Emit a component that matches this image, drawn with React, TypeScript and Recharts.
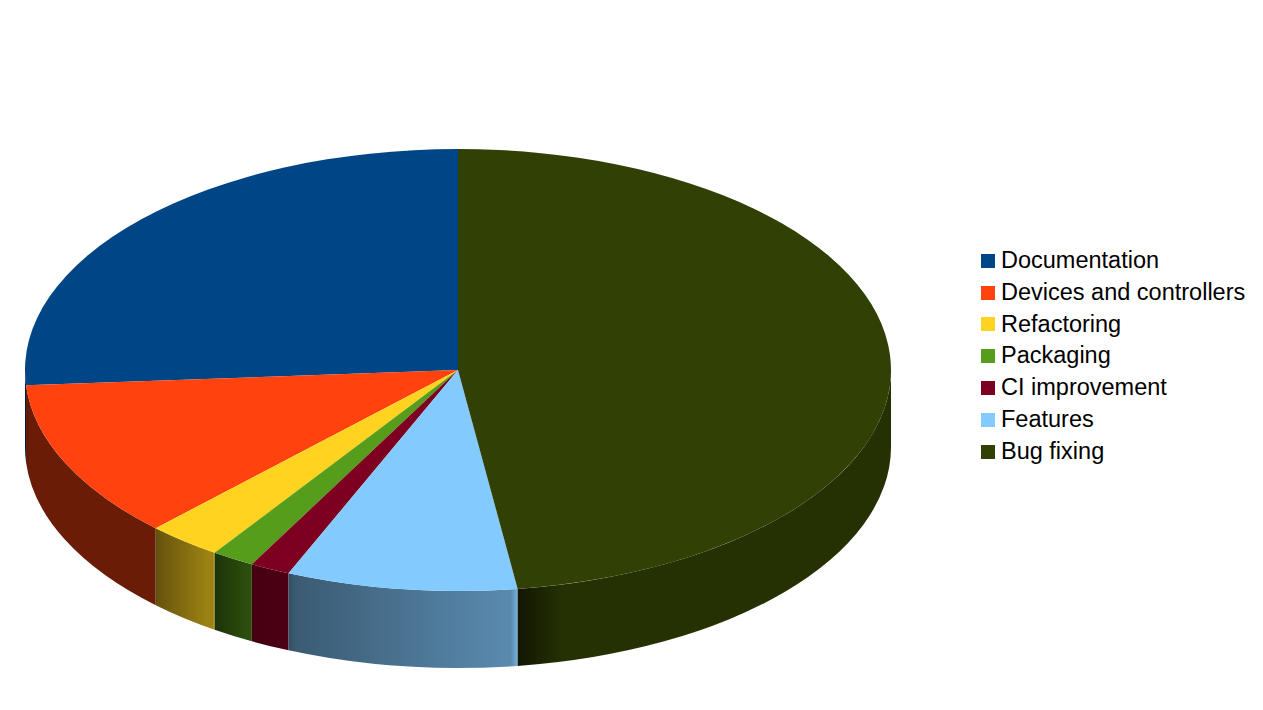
import { PieChart, Pie, Legend } from "recharts";

const categories = [
  "Documentation",
  "Devices and controllers",
  "Refactoring",
  "Packaging",
  "CI improvement",
  "Features",
  "Bug fixing",
];
const shares = [26.1, 11.6, 2.8, 1.6, 1.5, 8.6, 47.8];
const colors = ["#004586", "#ff420e", "#ffd320", "#579d1c", "#7e0021", "#83caff", "#314004"];

// side wall shading per slice: start factor, end factor, where the ramp ends, edge highlight
const wallShade: Record<string, { from: number; to: number; ramp: number; edge: number }> = {
  Documentation: { from: 0.42, to: 0.42, ramp: 1, edge: 1 },
  "Devices and controllers": { from: 0.42, to: 0.42, ramp: 1, edge: 1.1 },
  Refactoring: { from: 0.4, to: 0.62, ramp: 0.9, edge: 1.25 },
  Packaging: { from: 0.33, to: 0.5, ramp: 0.9, edge: 1.1 },
  "CI improvement": { from: 0.55, to: 0.6, ramp: 0.9, edge: 1 },
  Features: { from: 0.45, to: 0.68, ramp: 0.94, edge: 1.3 },
  "Bug fixing": { from: 0.45, to: 0.76, ramp: 0.12, edge: 1 },
};

const data = categories.map((name, i) => ({ name, value: shares[i], fill: colors[i] }));

const W = 1263;
const H = 710;
const CX = 458;
const CY = 370;
const RX = 433;
const FLAT = 221 / 433;
const DEPTH = 77;

function shade(hex: string, f: number) {
  const n = parseInt(hex.slice(1), 16);
  const c = (v: number) => Math.min(255, Math.round(v * f));
  return `rgb(${c((n >> 16) & 255)},${c((n >> 8) & 255)},${c(n & 255)})`;
}

function Slice3D(props: any) {
  const { cx, cy, outerRadius, startAngle, endAngle, fill, name, payload } = props;
  const label = name ?? payload?.name;
  const rx = outerRadius;
  const ry = outerRadius * FLAT;
  const pt = (a: number) => {
    const r = (a * Math.PI) / 180;
    return [cx + rx * Math.cos(r), cy - ry * Math.sin(r)];
  };
  const s = Math.min(startAngle, endAngle);
  const e = Math.max(startAngle, endAngle);
  const [sx, sy] = pt(s);
  const [ex, ey] = pt(e);
  const large = e - s > 180 ? 1 : 0;
  const top = `M${cx},${cy} L${sx},${sy} A${rx},${ry} 0 ${large} 0 ${ex},${ey} Z`;

  const walls: { a1: number; a2: number }[] = [];
  for (const [lo, hi] of [[180, 360], [540, 720]]) {
    const a1 = Math.max(s, lo);
    const a2 = Math.min(e, hi);
    if (a2 > a1) walls.push({ a1, a2 });
  }
  const sh = wallShade[label] ?? { from: 0.45, to: 0.65, ramp: 1, edge: 1 };
  const gid = `wall-${String(label).replace(/\W/g, "")}`;
  let minX = Infinity;
  let maxX = -Infinity;
  const wallPaths = walls.map(({ a1, a2 }) => {
    const [x1, y1] = pt(a1);
    const [x2, y2] = pt(a2);
    minX = Math.min(minX, x1, x2);
    maxX = Math.max(maxX, x1, x2);
    return `M${x1},${y1} A${rx},${ry} 0 0 0 ${x2},${y2} L${x2},${y2 + DEPTH} A${rx},${ry} 0 0 1 ${x1},${y1 + DEPTH} Z`;
  });

  return (
    <g>
      {wallPaths.length > 0 && (
        <defs>
          <linearGradient id={gid} gradientUnits="userSpaceOnUse" x1={minX} x2={maxX} y1={0} y2={0}>
            <stop offset="0" stopColor={shade(fill, sh.from * 0.85)} />
            <stop offset="0.03" stopColor={shade(fill, sh.from)} />
            <stop offset={sh.ramp} stopColor={shade(fill, sh.to)} />
            <stop offset="0.97" stopColor={shade(fill, sh.to)} />
            <stop offset="1" stopColor={shade(fill, sh.to * sh.edge)} />
          </linearGradient>
        </defs>
      )}
      {wallPaths.map((d, i) => (
        <path key={i} d={d} fill={`url(#${gid})`} stroke="none" />
      ))}
      <path d={top} fill={fill} stroke="none" />
    </g>
  );
}

function LegendList() {
  return (
    <div style={{ fontFamily: "'Liberation Sans', Arial, sans-serif", fontSize: 23.5, color: "#000" }}>
      {categories.map((name, i) => (
        <div key={name} style={{ display: "flex", alignItems: "center", height: 31.8 }}>
          <span style={{ display: "inline-block", width: 14, height: 14, background: colors[i], marginRight: 6 }} />
          <span style={{ whiteSpace: "nowrap", lineHeight: "31.8px" }}>{name}</span>
        </div>
      ))}
    </div>
  );
}

export default function App() {
  return (
    <div style={{ position: "absolute", left: 0, top: 0, width: W, height: H, background: "#fff" }}>
      <PieChart width={W} height={H} margin={{ top: 0, right: 0, bottom: 0, left: 0 }}>
        <Pie
          data={data}
          dataKey="value"
          nameKey="name"
          cx={CX}
          cy={CY}
          outerRadius={RX}
          startAngle={90}
          endAngle={450}
          stroke="none"
          shape={Slice3D}
          isAnimationActive={false}
        />
        <Legend
          layout="vertical"
          content={LegendList}
          wrapperStyle={{ position: "absolute", left: 981, top: 245, width: 282 }}
        />
      </PieChart>
    </div>
  );
}
